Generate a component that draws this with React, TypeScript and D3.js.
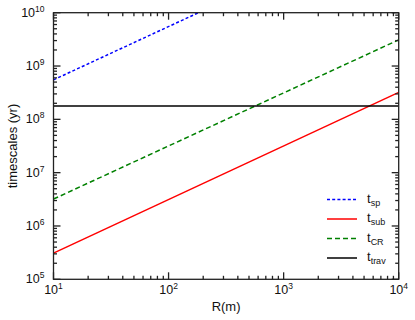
import React, { useEffect, useRef } from "react";
import * as d3 from "d3";

// radius endpoints (m) and the timescales (yr)
const radii = [10, 10000];
const tSp = [5.5e8, 5.5e11];
const tSub = [3.1e5, 3.2e8];
const tCR = [3.2e6, 3.1e9];
const tTrav = [1.77e8, 1.77e8];

const seriesNames = ["sp", "sub", "CR", "trav"];
const seriesColors = ["#0000ff", "#ff0000", "#008000", "#000000"];
const seriesDash = ["3,2.2", null, "5,3", null];

const xDecades = [1, 2, 3, 4];
const yDecades = [5, 6, 7, 8, 9, 10];

function App() {
  const svgRef = useRef<SVGSVGElement>(null);

  useEffect(() => {
    const width = 415,
      height = 320;
    const margin = { top: 12.7, right: 16.3, bottom: 40.7, left: 53.5 };
    const svg = d3.select(svgRef.current);
    svg.selectAll("*").remove();

    const x = d3
      .scaleLog()
      .domain([10, 1e4])
      .range([margin.left, width - margin.right]);
    const y = d3
      .scaleLog()
      .domain([1e5, 1e10])
      .range([height - margin.bottom, margin.top]);

    const defs = svg.append("defs");
    defs
      .append("clipPath")
      .attr("id", "plot-clip")
      .append("rect")
      .attr("x", margin.left)
      .attr("y", margin.top)
      .attr("width", width - margin.left - margin.right)
      .attr("height", height - margin.top - margin.bottom);

    const line = d3
      .line<number>()
      .x((_, i) => x(radii[i]))
      .y((d) => y(d));

    const allSeries = [tSp, tSub, tCR, tTrav];
    const lines = svg.append("g").attr("clip-path", "url(#plot-clip)");
    allSeries.forEach((s, i) => {
      lines
        .append("path")
        .attr("d", line(s))
        .attr("fill", "none")
        .attr("stroke", seriesColors[i])
        .attr("stroke-width", 1.5)
        .attr("stroke-dasharray", seriesDash[i]);
    });

    // frame and ticks (inward on all four sides)
    const x0 = margin.left,
      x1 = width - margin.right,
      y0 = height - margin.bottom,
      y1 = margin.top;
    const axes = svg.append("g").attr("stroke", "#222").attr("stroke-width", 1.3);
    axes
      .append("rect")
      .attr("x", x0)
      .attr("y", y1)
      .attr("width", x1 - x0)
      .attr("height", y0 - y1)
      .attr("fill", "none");

    const major = 7,
      minor = 3.5;
    const xTicks: [number, number][] = [];
    for (let p = 1; p < 4; p++)
      for (let m = 1; m < 10; m++) xTicks.push([m * 10 ** p, m === 1 ? major : minor]);
    xTicks.push([1e4, major]);
    xTicks.forEach(([v, len]) => {
      const px = x(v);
      axes.append("line").attr("x1", px).attr("x2", px).attr("y1", y0).attr("y2", y0 - len);
      axes.append("line").attr("x1", px).attr("x2", px).attr("y1", y1).attr("y2", y1 + len);
    });
    const yTicks: [number, number][] = [];
    for (let p = 5; p < 10; p++)
      for (let m = 1; m < 10; m++) yTicks.push([m * 10 ** p, m === 1 ? major : minor]);
    yTicks.push([1e10, major]);
    yTicks.forEach(([v, len]) => {
      const py = y(v);
      axes.append("line").attr("y1", py).attr("y2", py).attr("x1", x0).attr("x2", x0 + len);
      axes.append("line").attr("y1", py).attr("y2", py).attr("x1", x1).attr("x2", x1 - len);
    });

    const font = "Liberation Sans, Arial, sans-serif";

    // tick labels
    xDecades.forEach((p) => {
      const t = svg
        .append("text")
        .attr("x", x(10 ** p))
        .attr("y", y0 + 15)
        .attr("text-anchor", "middle")
        .attr("font-family", font)
        .attr("font-size", 12.5)
        .attr("fill", "#111");
      t.append("tspan").text("10");
      t.append("tspan").attr("dy", -5).attr("font-size", 8.5).text(p);
    });
    yDecades.forEach((p) => {
      const t = svg
        .append("text")
        .attr("x", x0 - 9)
        .attr("y", y(10 ** p) + 4)
        .attr("text-anchor", "end")
        .attr("font-family", font)
        .attr("font-size", 12.5)
        .attr("fill", "#111");
      t.append("tspan").text("10");
      t.append("tspan").attr("dy", -5).attr("font-size", 8.5).text(p);
    });

    svg
      .append("text")
      .attr("x", (x0 + x1) / 2)
      .attr("y", 311)
      .attr("text-anchor", "middle")
      .attr("font-family", font)
      .attr("font-size", 13)
      .attr("fill", "#111")
      .text("R(m)");

    svg
      .append("text")
      .attr("transform", `translate(16.5,${(y0 + y1) / 2}) rotate(-90)`)
      .attr("text-anchor", "middle")
      .attr("font-family", font)
      .attr("font-size", 13)
      .attr("fill", "#111")
      .text("timescales (yr)");

    // legend
    const legend = svg.append("g");
    seriesNames.forEach((name, i) => {
      const ly = 199.5 + i * 19.5;
      legend
        .append("line")
        .attr("x1", 327)
        .attr("x2", 357)
        .attr("y1", ly)
        .attr("y2", ly)
        .attr("stroke", seriesColors[i])
        .attr("stroke-width", 1.5)
        .attr("stroke-dasharray", seriesDash[i]);
      const t = legend
        .append("text")
        .attr("x", 367)
        .attr("y", ly + 3)
        .attr("font-family", font)
        .attr("font-size", 13)
        .attr("fill", "#111");
      t.append("tspan").text("t");
      t.append("tspan").attr("dy", 3).attr("font-size", 9).text(name);
    });
  }, []);

  return (
    <svg
      ref={svgRef}
      width={415}
      height={320}
      style={{ position: "absolute", left: 0, top: 0, background: "#fff" }}
    />
  );
}

export default App;
